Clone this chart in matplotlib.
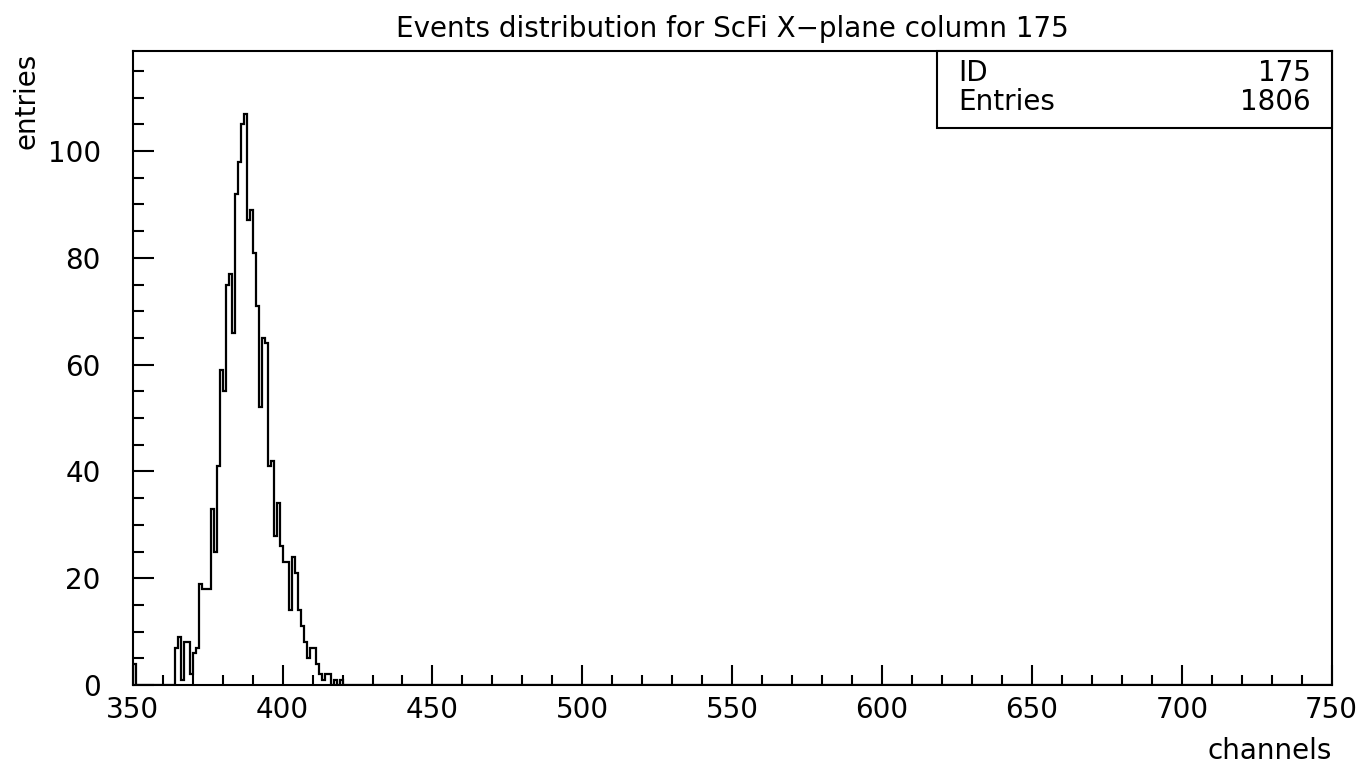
import numpy as np
import matplotlib
matplotlib.use("Agg")
import matplotlib.pyplot as plt
from matplotlib.patches import Rectangle
from matplotlib.ticker import MultipleLocator

# ---- data -------------------------------------------------------------
title = "Events distribution for ScFi X\u2212plane column 175"
x_label = "channels"
y_label = "entries"
hist_id = 175
hist_entries = 1806

x_min, x_max = 350, 750          # channel range (1 channel per bin)
first_channel = 350              # channel of the first value below
counts = [
    4, 0, 0, 0, 0, 0, 0, 0, 0, 0,          # 350-359
    0, 0, 0, 0, 7, 9, 1, 8, 8, 2,          # 360-369
    6, 7, 19, 18, 18, 18, 33, 25, 41, 59,  # 370-379
    55, 75, 77, 66, 92, 98, 105, 107, 87, 89,  # 380-389
    81, 71, 52, 65, 64, 41, 42, 28, 34, 26,    # 390-399
    23, 23, 14, 24, 21, 14, 11, 8, 5, 7,       # 400-409
    7, 4, 2, 1, 2, 2, 0, 1, 0, 1,              # 410-419
]
y_max = 118.8

# ---- build histogram --------------------------------------------------
edges = np.arange(x_min, x_max + 1, 1)
values = np.zeros(len(edges) - 1)
values[first_channel - x_min:first_channel - x_min + len(counts)] = counts

W, H = 1372, 769
fig = plt.figure(figsize=(W / 100, H / 100), dpi=100)
fig.patch.set_facecolor("white")

left, right, top, bottom = 132.7, 1331.7, 50.7, 685.0
ax = fig.add_axes([left / W, 1 - bottom / H, (right - left) / W, (bottom - top) / H])

ax.stairs(values, edges, color="black", linewidth=1.6, baseline=0)

ax.set_xlim(x_min, x_max)
ax.set_ylim(0, y_max)

ax.xaxis.set_major_locator(MultipleLocator(50))
ax.xaxis.set_minor_locator(MultipleLocator(10))
ax.yaxis.set_major_locator(MultipleLocator(20))
ax.yaxis.set_minor_locator(MultipleLocator(5))

fs = 20
ax.tick_params(axis="both", which="both", direction="in", top=False, right=False,
               width=1.5, colors="black", labelsize=fs)
ax.tick_params(axis="x", which="major", length=14.4, pad=8)
ax.tick_params(axis="x", which="minor", length=7.2)
ax.tick_params(axis="y", which="major", length=15, pad=23)
ax.tick_params(axis="y", which="minor", length=8)
for s in ax.spines.values():
    s.set_linewidth(1.5)
    s.set_color("black")

def fx(x):
    return x / W

def fy(y):
    return 1 - y / H

fig.text(fx((left + right) / 2), fy(37), title, ha="center", va="baseline", fontsize=fs)
fig.text(fx(26), fy(53), y_label, ha="center", va="top", rotation=90, fontsize=fs)
fig.text(fx(right), fy(751), x_label, ha="right", va="center", fontsize=fs)

# stats box
box_l = (937.3 - left) / (right - left)
box_b = 1 - (128.3 - top) / (bottom - top)
ax.add_patch(Rectangle((box_l, box_b), 1 - box_l, 1 - box_b, transform=ax.transAxes,
                       facecolor="white", edgecolor="black", linewidth=1.5,
                       clip_on=False, zorder=5))
fig.text(fx(958), fy(73.3), "ID", ha="left", va="center", fontsize=fs, zorder=6)
fig.text(fx(1311), fy(73.3), str(hist_id), ha="right", va="center", fontsize=fs, zorder=6)
fig.text(fx(958), fy(101.7), "Entries", ha="left", va="center", fontsize=fs, zorder=6)
fig.text(fx(1311), fy(101.7), str(hist_entries), ha="right", va="center", fontsize=fs, zorder=6)

fig.savefig("out.png", dpi=100, facecolor="white")
